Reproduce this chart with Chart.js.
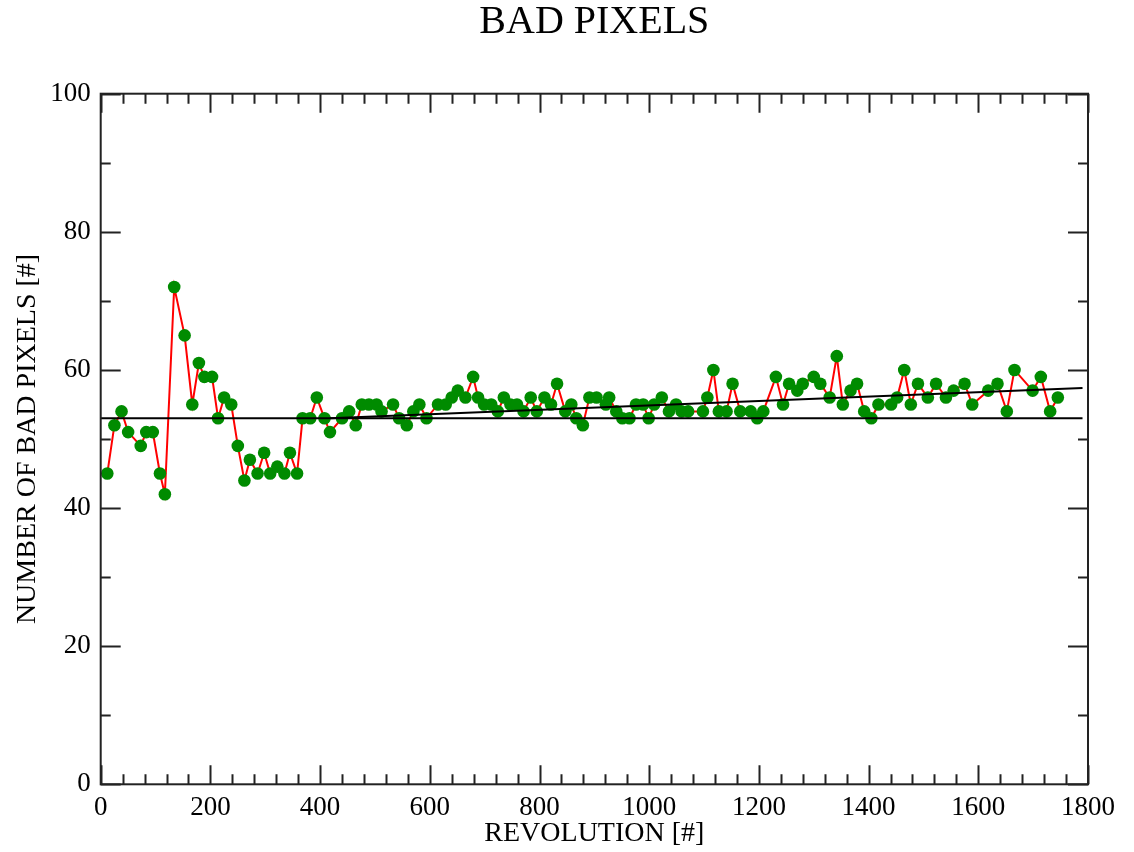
<!DOCTYPE html>
<html>
<head>
<meta charset="utf-8">
<script src="https://cdn.jsdelivr.net/npm/chart.js@4"></script>
<style>
  html, body { margin: 0; padding: 0; background: #fff; }
  #wrap { width: 1134px; height: 852px; }
</style>
</head>
<body>
<div id="wrap"><canvas id="chart1" width="1134" height="852"></canvas></div>
<script>
// revolution numbers and bad pixel counts
let revolution = [12,25,38,50,73,83,95,108,117,134,153,167,179,189,203,214,225,238,250,262,272,286,298,309,322,335,345,358,368,382,394,408,418,440,453,465,476,489,503,512,533,544,558,570,581,594,615,629,640,651,665,679,688,699,712,724,735,747,759,771,784,795,809,821,832,847,858,867,879,891,904,921,927,940,951,964,976,989,999,1009,1023,1036,1049,1059,1071,1098,1106,1117,1127,1141,1152,1166,1185,1197,1208,1231,1244,1255,1270,1280,1300,1312,1329,1342,1353,1367,1379,1392,1405,1418,1441,1452,1465,1477,1490,1508,1523,1541,1555,1575,1589,1618,1635,1652,1666,1699,1714,1731,1745]
let badPixels = [45,52,54,51,49,51,51,45,42,72,65,55,61,59,59,53,56,55,49,44,47,45,48,45,46,45,48,45,53,53,56,53,51,53,54,52,55,55,55,54,55,53,52,54,55,53,55,55,56,57,56,59,56,55,55,54,56,55,55,54,56,54,56,55,58,54,55,53,52,56,56,55,56,54,53,53,55,55,53,55,56,54,55,54,54,54,56,60,54,54,58,54,54,53,54,59,55,58,57,58,59,58,56,62,55,57,58,54,53,55,55,56,60,55,58,56,58,56,57,58,55,57,58,54,60,57,59,54,56]

// the two black reference lines (mean and linear trend)
let meanX = [0, 1790]
let meanY = [53, 53]
let trendX = [418, 1790]
let trendY = [53.0, 57.4]

let xTicks = [0, 200, 400, 600, 800, 1000, 1200, 1400, 1600, 1800]
let yTicks = [0, 20, 40, 60, 80, 100]

function toPoints(xs, ys) {
  return xs.map((x, i) => ({ x: x, y: ys[i] }))
}

const serif = 'Liberation Serif'

// frame round the plot with inward ticks on every side
const frame = {
  id: 'frame',
  afterDraw(chart) {
    const ctx = chart.ctx
    const a = chart.chartArea
    const sx = chart.scales.x
    const sy = chart.scales.y
    ctx.save()
    ctx.strokeStyle = '#222'
    ctx.lineWidth = 2
    ctx.strokeRect(a.left, a.top, a.right - a.left, a.bottom - a.top)
    ctx.beginPath()
    for (let v = 0; v <= 1800; v += 40) {
      const px = Math.round(sx.getPixelForValue(v)) + 0.5
      const len = v % 200 === 0 ? 19 : 10
      ctx.moveTo(px, a.bottom); ctx.lineTo(px, a.bottom - len)
      ctx.moveTo(px, a.top); ctx.lineTo(px, a.top + len)
    }
    for (let v = 0; v <= 100; v += 10) {
      const py = Math.round(sy.getPixelForValue(v)) + 0.5
      const len = v % 20 === 0 ? 20 : 10
      ctx.moveTo(a.left, py); ctx.lineTo(a.left + len, py)
      ctx.moveTo(a.right, py); ctx.lineTo(a.right - len, py)
    }
    ctx.stroke()
    ctx.restore()
  }
}

new Chart(document.getElementById('chart1'), {
  type: 'scatter',
  data: {
    datasets: [
      {
        label: 'mean',
        data: toPoints(meanX, meanY),
        showLine: true,
        borderColor: '#000',
        borderWidth: 2,
        pointRadius: 0
      },
      {
        label: 'trend',
        data: toPoints(trendX, trendY),
        showLine: true,
        borderColor: '#000',
        borderWidth: 2,
        pointRadius: 0
      },
      {
        label: 'bad pixels',
        data: toPoints(revolution, badPixels),
        showLine: true,
        borderColor: '#ff0000',
        borderWidth: 2,
        pointRadius: 6.3,
        pointBackgroundColor: 'rgb(0,139,0)',
        pointBorderColor: 'rgb(0,139,0)',
        pointBorderWidth: 0
      }
    ]
  },
  options: {
    responsive: false,
    animation: false,
    devicePixelRatio: 1,
    layout: { padding: { left: 0, right: 46, top: 0, bottom: 0 } },
    plugins: {
      legend: { display: false },
      tooltip: { enabled: false },
      title: {
        display: true,
        text: 'BAD PIXELS',
        fullSize: false,
        color: '#000',
        font: { family: serif, size: 40, weight: 'normal', lineHeight: 1.0 },
        padding: { top: 2.5, bottom: 51.2 }
      }
    },
    scales: {
      x: {
        type: 'linear',
        min: 0,
        max: 1800,
        afterFit(scale) { scale.height = 67.7 },
        afterBuildTicks(scale) { scale.ticks = xTicks.map(v => ({ value: v })) },
        grid: { display: false, drawTicks: false },
        border: { display: false },
        ticks: {
          color: '#000', padding: 7, maxRotation: 0,
          font: { family: serif, size: 27 },
          callback: v => String(v)
        },
        title: {
          display: true,
          text: 'REVOLUTION [#]',
          color: '#000',
          font: { family: serif, size: 28 },
          padding: { top: 0, bottom: 1.2 }
        }
      },
      y: {
        min: 0,
        max: 100,
        afterFit(scale) { scale.width = 100.7 },
        afterBuildTicks(scale) { scale.ticks = yTicks.map(v => ({ value: v })) },
        grid: { display: false, drawTicks: false },
        border: { display: false },
        ticks: {
          color: '#000', padding: 10,
          font: { family: serif, size: 27 },
          callback: v => String(v)
        },
        title: {
          display: true,
          text: 'NUMBER OF BAD PIXELS [#]',
          color: '#000',
          font: { family: serif, size: 28 },
          padding: { top: 11.2, bottom: 0 }
        }
      }
    }
  },
  plugins: [frame]
});
</script>
</body>
</html>
